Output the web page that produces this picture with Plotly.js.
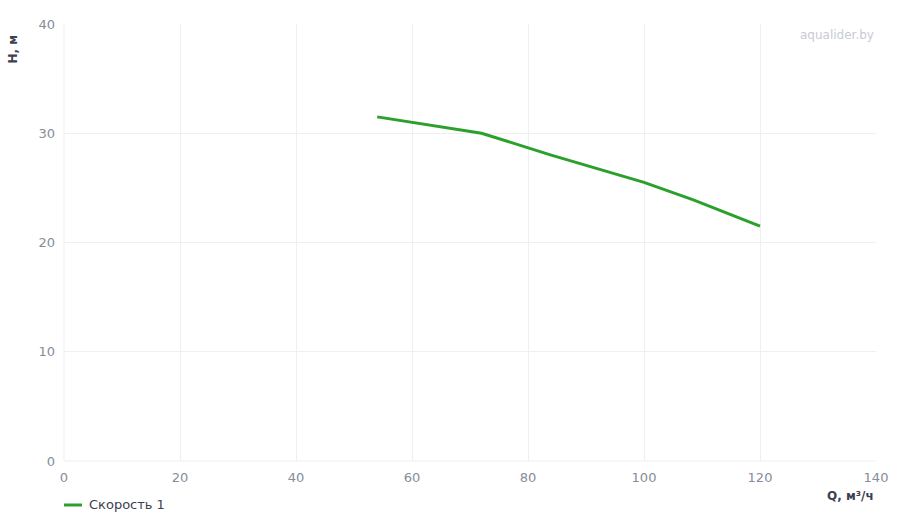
<!DOCTYPE html>
<html>
<head>
<meta charset="utf-8">
<script src="https://cdn.plot.ly/plotly-3.0.1.min.js"></script>
<style>
  html, body { margin:0; padding:0; background:#fff; }
  #chart { width:900px; height:520px; }
</style>
</head>
<body>
<div id="chart"></div>
<script>
// pump curve, speed 1
const flowQ  = [54, 72, 84, 100, 108.5, 120];
const headH  = [31.5, 30, 28, 25.5, 23.9, 21.5];
const seriesName = 'Скорость 1';
const xTicks = [0, 20, 40, 60, 80, 100, 120, 140];
const yTicks = [0, 10, 20, 30, 40];

const FONT = 'DejaVu Sans, sans-serif';
const tickCol = '#868c9a';
const titleCol = '#3b4150';
const gridCol = '#efeff2';
const lineCol = '#2ca02c';

const traces = [{
  x: flowQ, y: headH,
  type: 'scatter', mode: 'lines',
  name: seriesName,
  line: { color: lineCol, width: 3 },
}];

const layout = {
  width: 900, height: 520,
  paper_bgcolor: '#fff', plot_bgcolor: '#fff',
  margin: { l: 64, r: 24, t: 24, b: 59, autoexpand: false },
  font: { family: FONT, size: 13, color: tickCol },
  xaxis: {
    range: [0, 140], tickvals: xTicks, ticktext: xTicks.map(String),
    gridcolor: gridCol, zeroline: false, showline: false,
    tickfont: { family: FONT, size: 13, color: tickCol },
    ticks: '', ticklabelstandoff: 7, fixedrange: true, automargin: false,
  },
  yaxis: {
    range: [0, 40], tickvals: yTicks, ticktext: yTicks.map(String),
    gridcolor: gridCol, zeroline: false, showline: false,
    tickfont: { family: FONT, size: 13, color: tickCol },
    ticks: '', ticklabelstandoff: 8, fixedrange: true, automargin: false,
  },
  shapes: [
    { type:'line', xref:'paper', yref:'paper', x0:0, x1:0, y0:0, y1:1, line:{color:gridCol, width:1} },
    { type:'line', xref:'paper', yref:'paper', x0:0, x1:1, y0:0, y1:0, line:{color:gridCol, width:1} },
    // legend sample
    { type:'line', xref:'paper', yref:'paper', x0:0, x1:18/812, y0:-44/437, y1:-44/437, line:{color:lineCol, width:3} },
  ],
  showlegend: false,
  annotations: [
    { text: seriesName, xref:'paper', yref:'paper', x: 23/812, y: -44/437,
      xanchor:'left', yanchor:'middle', showarrow:false,
      font: { family: FONT, size: 13, color: titleCol } },
    { text: '<b>H, м</b>', xref:'paper', yref:'paper', x: -52/812, y: 1 - 8/437,
      xanchor:'center', yanchor:'top', textangle: -90, showarrow:false,
      font: { family: FONT, size: 12, color: titleCol } },
    { text: '<b>Q, м³/ч</b>', xref:'paper', yref:'paper', x: 1.0, y: -26/437,
      xanchor:'right', yanchor:'top', showarrow:false,
      font: { family: FONT, size: 12, color: titleCol } },
    { text: 'aqualider.by', xref:'paper', yref:'paper', x: 1.0, y: 0.995,
      xanchor:'right', yanchor:'top', showarrow:false,
      font: { family: FONT, size: 12, color: '#c8cbd4' } },
  ],
};

Plotly.newPlot('chart', traces, layout, { displayModeBar: false, staticPlot: true });
</script>
</body>
</html>
